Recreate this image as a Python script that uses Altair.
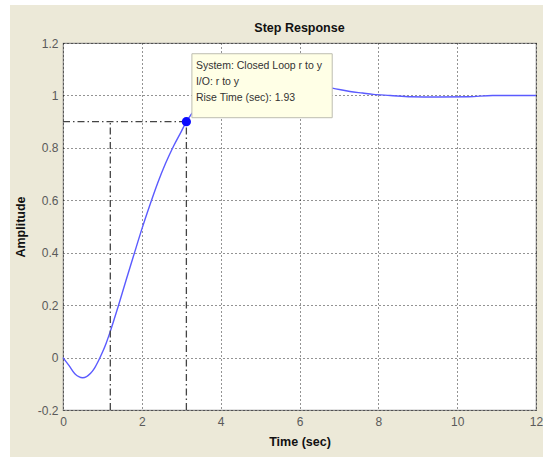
import altair as alt
import pandas as pd

# ---- data ----
time = [0, 0.15, 0.3, 0.5, 0.7, 0.8, 0.9, 1.0, 1.1, 1.2, 1.4, 1.6, 1.8, 2.0, 2.2, 2.4, 2.6, 2.8, 3.0, 3.13,
        3.4, 3.7, 4.0, 4.5, 5.0, 5.5, 6.0, 6.5, 6.83, 7.28, 7.6, 7.87, 8.3, 8.83, 9.5, 10.3, 10.9, 12]
amplitude = [0, -0.03, -0.062, -0.077, -0.06, -0.04, -0.012, 0.02, 0.057, 0.1, 0.195, 0.295, 0.393, 0.49,
             0.58, 0.665, 0.74, 0.805, 0.862, 0.9, 0.955, 0.995, 1.025, 1.045, 1.05, 1.048, 1.043, 1.035,
             1.028, 1.015, 1.009, 1.004, 1.0, 0.995, 0.994, 0.995, 1.0, 1.0]

x_ticks = [0, 2, 4, 6, 8, 10, 12]
y_ticks = [-0.2, 0, 0.2, 0.4, 0.6, 0.8, 1, 1.2]

rise_t_start = 1.2
rise_t_end = 3.13
rise_level = 0.9
y_floor = -0.2

tip_box = {"x1": 3.27, "x2": 6.83, "y1": 0.915, "y2": 1.159}
tip_lines = ["System: Closed Loop r to y", "I/O: r to y", "Rise Time (sec): 1.93"]
title_text = "Step Response"

FONT = "Liberation Sans"
BG = "#ECE9D8"
W, H = 473, 367

curve = pd.DataFrame({"t": time, "a": amplitude})
hline = pd.DataFrame({"t": [0], "t2": [rise_t_end], "a": [rise_level]})
vlines = pd.DataFrame({"t": [rise_t_start, rise_t_end], "a": [y_floor, y_floor], "a2": [rise_level, rise_level]})
marker = pd.DataFrame({"t": [rise_t_end], "a": [rise_level]})
box = pd.DataFrame([tip_box])
tip_text = pd.DataFrame({"x": [tip_box["x1"]], "y": [tip_box["y2"]], "txt": ["\n".join(tip_lines)]})
title_df = pd.DataFrame({"txt": [title_text]})

xs = alt.Scale(domain=[0, 12], nice=False, zero=False)
ys = alt.Scale(domain=[-0.2, 1.2], nice=False, zero=False)

xaxis = alt.Axis(values=x_ticks, title="Time (sec)", grid=True, gridDash=[1, 3], gridColor="#000",
                 gridOpacity=0.85, ticks=False, domain=False, labelFont=FONT, labelFontSize=12,
                 labelColor="#5a5a5a", labelPadding=6, titleFont=FONT, titleFontSize=12.5,
                 titleFontWeight="bold", titleColor="#111", titlePadding=8, labelFlush=False)
yaxis = alt.Axis(values=y_ticks, title="Amplitude", grid=True, gridDash=[1, 3], gridColor="#000",
                 gridOpacity=0.85, ticks=False, domain=False, labelFont=FONT, labelFontSize=12,
                 labelColor="#5a5a5a", labelPadding=5, titleFont=FONT, titleFontSize=12.5,
                 titleFontWeight="bold", titleColor="#111", titlePadding=10,
                 labelExpr="'' + datum.value", labelFlush=False)

line = alt.Chart(curve).mark_line(color="#5b5bff", strokeWidth=1.4, interpolate="monotone").encode(
    x=alt.X("t:Q", scale=xs, axis=xaxis),
    y=alt.Y("a:Q", scale=ys, axis=yaxis),
)

dash = [7, 3, 1.5, 3]
h = alt.Chart(hline).mark_rule(color="#444", strokeWidth=1.3, strokeDash=dash).encode(
    x=alt.X("t:Q", scale=xs), x2="t2:Q", y=alt.Y("a:Q", scale=ys))
v = alt.Chart(vlines).mark_rule(color="#444", strokeWidth=1.3, strokeDash=dash).encode(
    x=alt.X("t:Q", scale=xs), y=alt.Y("a:Q", scale=ys), y2="a2:Q")

pt = alt.Chart(marker).mark_point(filled=True, color="#0a0aff", size=85, opacity=1).encode(
    x=alt.X("t:Q", scale=xs), y=alt.Y("a:Q", scale=ys))

rect = alt.Chart(box).mark_rect(fill="#FFFFE6", stroke="#bdbdb0", strokeWidth=1).encode(
    x=alt.X("x1:Q", scale=xs), x2="x2:Q", y=alt.Y("y1:Q", scale=ys), y2="y2:Q")

txt = alt.Chart(tip_text).mark_text(align="left", baseline="top", dx=4, dy=7, lineBreak="\n",
                                    lineHeight=16, font=FONT, fontSize=10.5, color="#333").encode(
    x=alt.X("x:Q", scale=xs), y=alt.Y("y:Q", scale=ys), text="txt:N")

title = alt.Chart(title_df).mark_text(align="center", baseline="middle", font=FONT, fontSize=12.5,
                                      fontWeight="bold", color="#111").encode(
    x=alt.value(W / 2), y=alt.value(-15), text="txt:N")

# white border strips of the window screenshot
strip_left = alt.Chart(marker).mark_rect(color="white").encode(
    x=alt.value(-63), x2=alt.value(-53), y=alt.value(-43), y2=alt.value(416))
strip_top = alt.Chart(marker).mark_rect(color="white").encode(
    x=alt.value(-63), x2=alt.value(480), y=alt.value(-43), y2=alt.value(-38))
strip_bottom = alt.Chart(marker).mark_rect(color="white").encode(
    x=alt.value(-63), x2=alt.value(480), y=alt.value(414), y2=alt.value(416))

chart = alt.layer(strip_left, strip_top, strip_bottom, title, line, h, v, rect, txt, pt).properties(
    width=W, height=H,
    autosize=alt.AutoSizeParams(type="none"),
    padding={"left": 63, "top": 43, "right": 7, "bottom": 49},
    background=BG,
).configure_view(fill="white", stroke="#8f8f8f", strokeWidth=1.2)

chart.save("out.html", embed_options={"renderer": "svg", "actions": False})
